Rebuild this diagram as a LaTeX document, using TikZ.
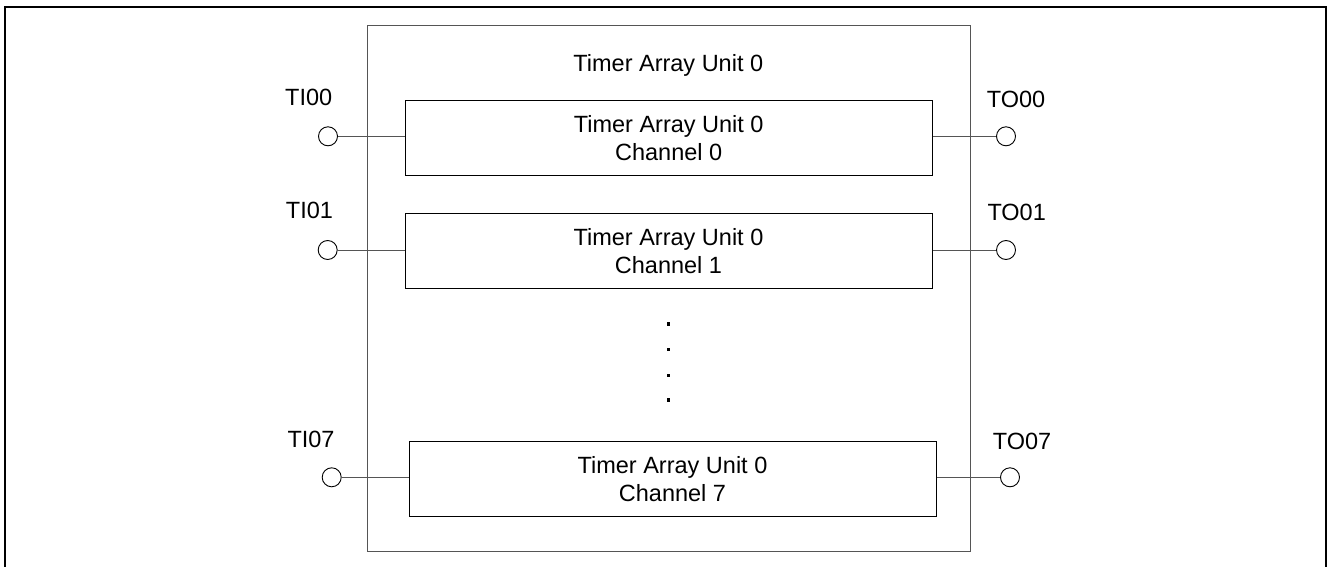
\documentclass[tikz,border=0pt]{standalone}
\usepackage{fontspec}
\setmainfont{Liberation Sans}
\definecolor{linegray}{RGB}{85,85,85}
\begin{document}
\begin{tikzpicture}[x=1pt,y=-1pt,
  lbl/.style={font=\fontsize{23.5}{28.3}\selectfont, inner sep=0pt, anchor=base west},
  chan/.style={draw=black, line width=1pt, fill=white, rectangle, inner sep=0pt,
    minimum width=527pt, minimum height=75pt, align=center,
    font=\fontsize{23.5}{28.3}\selectfont},
  pin/.style={circle, draw=black, line width=0.9pt, fill=white, minimum size=19pt, inner sep=0pt},
  conn/.style={draw=linegray, line width=1pt}]
\useasboundingbox (0,0) rectangle (1328,567);
% outer frame (bottom edge outside the visible area)
\draw[line width=2pt] (4.5,575) -- (4.5,7) -- (1325.5,7) -- (1325.5,575);
% unit box
\node[draw=linegray, line width=1pt, rectangle, inner sep=0pt, minimum width=603pt, minimum height=525.3pt] (unit) at (668.5,288.35) {};
\node[font=\fontsize{23.5}{28.3}\selectfont, inner sep=0pt, anchor=base] (title) at (668.3,71.7) {Timer Array Unit 0};
% pins
\node[pin] (ti0) at (328,136.3) {};
\node[pin] (to0) at (1006,136.3) {};
\node[pin] (ti1) at (327.7,250) {};
\node[pin] (to1) at (1006,250) {};
\node[pin] (ti7) at (331.7,477.3) {};
\node[pin] (to7) at (1010,477.3) {};
% channel boxes
\node[chan] (ch0) at (668.7,138.2) {Timer Array Unit 0\\Channel 0};
\node[chan] (ch1) at (668.5,250.8) {Timer Array Unit 0\\Channel 1};
\node[chan] (ch7) at (672.5,478.9) {Timer Array Unit 0\\Channel 7};
% connectors
\draw[conn] (ti0.east) -- (ti0.east -| ch0.west);
\draw[conn] (ch0.east |- to0.west) -- (to0.west);
\draw[conn] (ti1.east) -- (ti1.east -| ch1.west);
\draw[conn] (ch1.east |- to1.west) -- (to1.west);
\draw[conn] (ti7.east) -- (ti7.east -| ch7.west);
\draw[conn] (ch7.east |- to7.west) -- (to7.west);
% labels
\node[lbl] (lti0) at (285,106) {TI00};
\node[lbl] (lto0) at (986.7,107.3) {TO00};
\node[lbl] (lti1) at (285.7,218.3) {TI01};
\node[lbl] (lto1) at (987.3,220) {TO01};
\node[lbl] (lti7) at (287.3,447.3) {TI07};
\node[lbl] (lto7) at (992.7,449) {TO07};
% vertical ellipsis
\foreach \yy in {324,349.3,375.3,400}
  \fill (666.7,\yy-1.6) rectangle (670,\yy+1.6);
\end{tikzpicture}
\end{document}
